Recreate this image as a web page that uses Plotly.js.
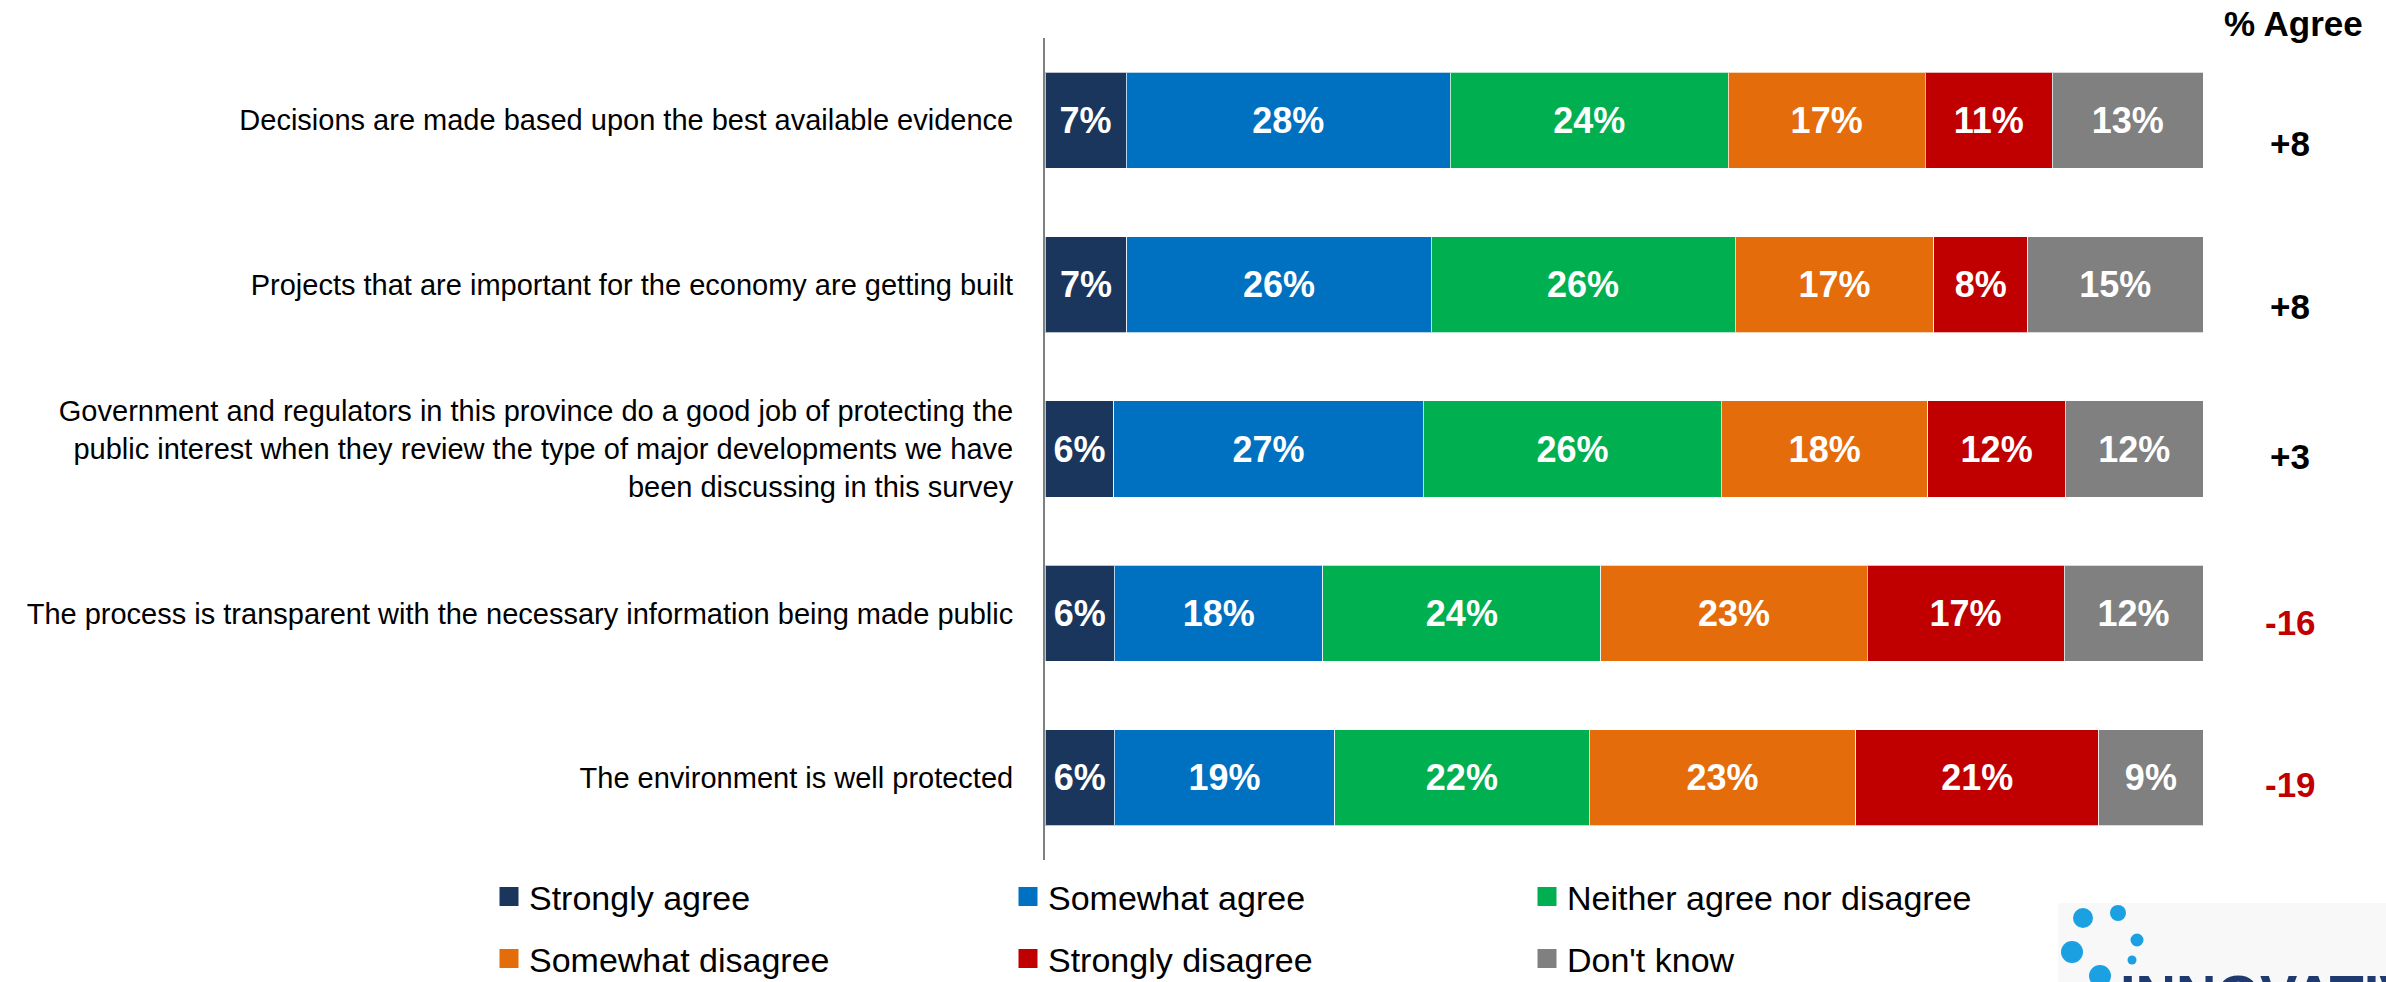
<!DOCTYPE html>
<html>
<head>
<meta charset="utf-8">
<script src="https://cdn.plot.ly/plotly-3.0.1.min.js"></script>
<style>
  html, body { margin: 0; padding: 0; background: #ffffff; }
  #chart { width: 2386px; height: 982px; }
</style>
</head>
<body>
<div id="chart"></div>
<script>
// ---------- data ----------
const categories = [
  "Decisions are made based upon the best available evidence",
  "Projects that are important for the economy are getting built",
  "Government and regulators in this province do a good job of protecting the<br>public interest when they review the type of major developments we have<br>been discussing in this survey",
  "The process is transparent with the necessary information being made public",
  "The environment is well protected"
];
const seriesNames = ["Strongly agree", "Somewhat agree", "Neither agree nor disagree",
                     "Somewhat disagree", "Strongly disagree", "Don't know"];
const stronglyAgree    = [7, 7, 6, 6, 6];
const somewhatAgree    = [28, 26, 27, 18, 19];
const neither          = [24, 26, 26, 24, 22];
const somewhatDisagree = [17, 17, 18, 23, 23];
const stronglyDisagree = [11, 8, 12, 17, 21];
const dontKnow         = [13, 15, 12, 12, 9];
const netAgree         = [8, 8, 3, -16, -19];
const netHeader = "% Agree";
const logoText = "INNOVATIVE";

// ---------- styles ----------
const colors = ["#1B365D", "#0070C0", "#00B050", "#E46C0A", "#C00000", "#808080"];
const FONT = "Liberation Sans, Arial, sans-serif";
const W = 2386, H = 982;
const M = { l: 1045, r: 183, t: 38, b: 122, autoexpand: false };
const PW = W - M.l - M.r, PH = H - M.t - M.b;
const xp = px => (px - M.l) / PW;
const yp = py => (H - M.b - py) / PH;

const allSeries = [stronglyAgree, somewhatAgree, neither, somewhatDisagree, stronglyDisagree, dontKnow];

const barTraces = allSeries.map((vals, i) => ({
  type: "bar",
  orientation: "h",
  name: seriesNames[i],
  y: categories,
  x: vals,
  text: vals.map(v => v + "%"),
  textposition: "inside",
  insidetextanchor: "middle",
  textangle: 0,
  constraintext: "none",
  insidetextfont: { family: FONT, size: 36, color: "#ffffff", weight: "bold" },
  marker: { color: colors[i], line: { color: "rgba(255,255,255,0.7)", width: 1 } },
  hoverinfo: "skip",
  showlegend: false
}));

// legend-only entries (square swatches like the reference)
const legendTraces = seriesNames.map((name, i) => ({
  type: "scatter",
  mode: "markers",
  name: name,
  x: [null],
  y: [null],
  marker: { symbol: "square", size: 16, color: colors[i], line: { color: colors[i], width: 3 } },
  hoverinfo: "skip",
  showlegend: true,
  legend: i < 3 ? "legend" : "legend2"
}));

const netShift = [-23, -22, -7, -9, -7];
const annotations = [
  {
    xref: "paper", yref: "paper", x: xp(2293), y: yp(23),
    text: "<b>" + netHeader + "</b>", showarrow: false,
    xanchor: "center", yanchor: "middle",
    font: { family: FONT, size: 35, color: "#000000" }
  }
].concat(netAgree.map((v, i) => ({
  xref: "paper", yref: "y", x: xp(2290), y: categories[i], yshift: netShift[i],
  text: "<b>" + (v > 0 ? "+" + v : String(v)) + "</b>", showarrow: false,
  xanchor: "center", yanchor: "middle",
  font: { family: FONT, size: 35, color: v < 0 ? "#C00000" : "#000000" }
})));

// logo (decorative, bottom-right, cut off by the page edge as in the reference)
annotations.push({
  xref: "paper", yref: "paper", x: xp(2118), y: yp(961),
  text: "<b>" + logoText + "</b>", showarrow: false, xanchor: "left", yanchor: "top",
  font: { family: FONT, size: 56, color: "#1F3A6E" }
});
const dots = [[2083, 918, 10], [2118, 913, 8], [2137, 940, 6.5], [2072, 952, 11], [2132, 960, 4.5], [2100, 976, 11]];
const shapes = [
  { type: "rect", xref: "paper", yref: "paper", x0: xp(2058), x1: xp(2386), y0: yp(982), y1: yp(903),
    fillcolor: "#F8F8F8", line: { width: 0 }, layer: "below" }
].concat(dots.map(d => ({
  type: "circle", xref: "paper", yref: "paper",
  x0: xp(d[0] - d[2]), x1: xp(d[0] + d[2]), y0: yp(d[1] + d[2]), y1: yp(d[1] - d[2]),
  fillcolor: "#1BA1E2", line: { width: 0 }
})));

const legendCommon = {
  orientation: "h", xanchor: "left", yanchor: "middle", traceorder: "normal",
  entrywidth: 474, entrywidthmode: "pixels",
  font: { family: FONT, size: 34, color: "#000000" },
  bgcolor: "rgba(0,0,0,0)", itemclick: false, itemdoubleclick: false
};

const layout = {
  width: W, height: H,
  margin: M,
  paper_bgcolor: "#ffffff", plot_bgcolor: "#ffffff",
  barmode: "stack", barnorm: "percent", bargap: 0.415,
  font: { family: FONT, color: "#000000" },
  xaxis: { range: [0, 100], visible: false, fixedrange: true },
  yaxis: {
    type: "category", autorange: "reversed",
    showline: true, linecolor: "#808080", linewidth: 2,
    showgrid: false, zeroline: false, ticks: "",
    ticklabelstandoff: 24,
    tickfont: { family: FONT, size: 29, color: "#000000" },
    fixedrange: true
  },
  legend: Object.assign({}, legendCommon, { x: xp(489), y: yp(897) }),
  legend2: Object.assign({}, legendCommon, { x: xp(489), y: yp(959) }),
  showlegend: true,
  annotations: annotations,
  shapes: shapes,
  hovermode: false
};

Plotly.newPlot("chart", barTraces.concat(legendTraces), layout, { displayModeBar: false, staticPlot: true });
</script>
</body>
</html>
